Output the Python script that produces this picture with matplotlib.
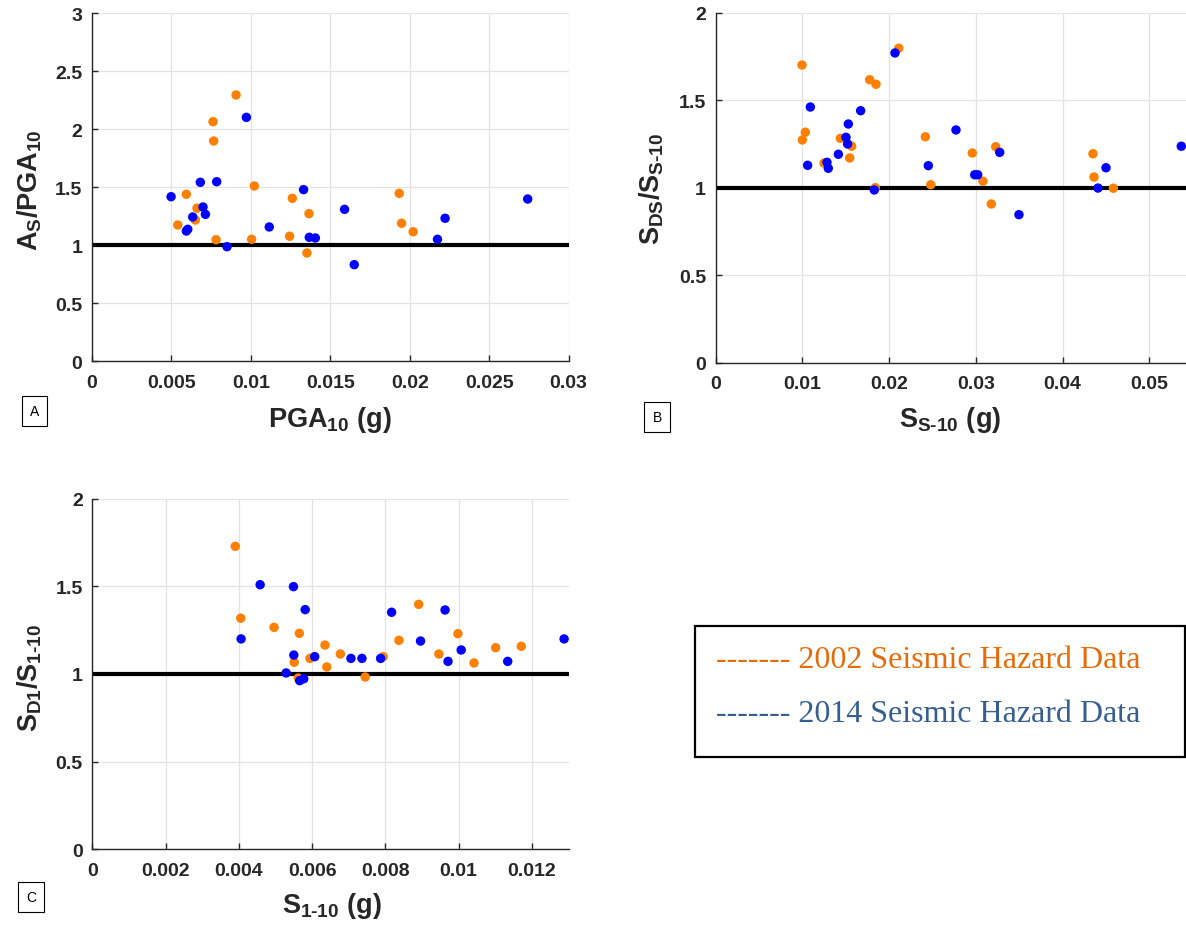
import matplotlib
matplotlib.use("Agg")
import matplotlib.pyplot as plt
from matplotlib.patches import Rectangle

plt.rcParams['font.family'] = ['Liberation Sans', 'DejaVu Sans']
plt.rcParams['mathtext.fontset'] = 'custom'
plt.rcParams['mathtext.rm'] = 'Liberation Sans:bold'
plt.rcParams['mathtext.it'] = 'Liberation Sans:bold'
plt.rcParams['mathtext.bf'] = 'Liberation Sans:bold'

# ---------------- Data ----------------
# Panel A: As/PGA10 vs PGA10
a_2002_x = [0.00907, 0.00762, 0.00766, 0.00594, 0.00661, 0.00651, 0.00540, 0.00781, 0.01022, 0.01005,
            0.01261, 0.01366, 0.01244, 0.01353, 0.01934, 0.01949, 0.02022]
a_2002_y = [2.296, 2.066, 1.899, 1.440, 1.320, 1.218, 1.175, 1.048, 1.511, 1.052,
            1.405, 1.273, 1.078, 0.934, 1.448, 1.190, 1.117]
a_2014_x = [0.00972, 0.00498, 0.00682, 0.00785, 0.00699, 0.00634, 0.00714, 0.00603, 0.00594, 0.00850,
            0.01116, 0.01332, 0.01368, 0.01406, 0.01590, 0.01651, 0.02223, 0.02175, 0.02743]
a_2014_y = [2.103, 1.419, 1.543, 1.548, 1.330, 1.244, 1.267, 1.138, 1.123, 0.988,
            1.158, 1.480, 1.069, 1.063, 1.310, 0.833, 1.233, 1.052, 1.399]

# Panel B: SDS/SS-10 vs SS-10
b_2002_x = [0.00996, 0.02111, 0.01776, 0.01849, 0.01034, 0.01000, 0.01438, 0.01569, 0.01250, 0.01546,
            0.01841, 0.02418, 0.02480, 0.02959, 0.03229, 0.03082, 0.03178, 0.04350, 0.04362, 0.04585]
b_2002_y = [1.701, 1.797, 1.617, 1.591, 1.317, 1.273, 1.282, 1.237, 1.141, 1.170,
            1.000, 1.291, 1.017, 1.198, 1.234, 1.037, 0.907, 1.194, 1.061, 0.997]
b_2014_x = [0.02068, 0.01092, 0.01672, 0.01530, 0.01503, 0.01522, 0.01415, 0.01284, 0.01299, 0.01061,
            0.01829, 0.02452, 0.02771, 0.02987, 0.03021, 0.03275, 0.03497, 0.04500, 0.04408, 0.05368]
b_2014_y = [1.770, 1.461, 1.440, 1.364, 1.288, 1.250, 1.191, 1.145, 1.111, 1.128,
            0.987, 1.126, 1.330, 1.074, 1.074, 1.202, 0.846, 1.114, 0.998, 1.237]

# Panel C: SD1/S1-10 vs S1-10
c_2002_x = [0.00390, 0.00405, 0.00496, 0.00565, 0.00551, 0.00562, 0.00594, 0.00635, 0.00640, 0.00677,
            0.00745, 0.00794, 0.00837, 0.00891, 0.00946, 0.00998, 0.01042, 0.01101, 0.01171]
c_2002_y = [1.728, 1.318, 1.266, 1.232, 1.067, 0.977, 1.089, 1.165, 1.040, 1.114,
            0.983, 1.099, 1.192, 1.397, 1.114, 1.230, 1.063, 1.150, 1.158]
c_2014_x = [0.00458, 0.00549, 0.00581, 0.00406, 0.00550, 0.00607, 0.00529, 0.00566, 0.00577, 0.00706,
            0.00736, 0.00787, 0.00817, 0.00896, 0.00963, 0.00971, 0.01007, 0.01134, 0.01288]
c_2014_y = [1.509, 1.498, 1.367, 1.200, 1.108, 1.099, 1.006, 0.962, 0.973, 1.089,
            1.089, 1.089, 1.352, 1.188, 1.365, 1.072, 1.137, 1.072, 1.200]

legend_labels = ["------- 2002 Seismic Hazard Data", "------- 2014 Seismic Hazard Data"]

# ---------------- Styling ----------------
W, H = 1186, 928
C2002 = '#FF8000'
C2014 = '#0000FF'
AXC = '#262626'

fig = plt.figure(figsize=(W / 100, H / 100), dpi=100)


def px_axes(left, top, right, bottom):
    return fig.add_axes([left / W, 1 - bottom / H, (right - left) / W, (bottom - top) / H])


def style(ax, xlim, ylim, xticks, xtl, yticks, ytl):
    ax.set_xlim(*xlim)
    ax.set_ylim(*ylim)
    ax.set_xticks(xticks)
    ax.set_xticklabels(xtl)
    ax.set_yticks(yticks)
    ax.set_yticklabels(ytl)
    for s in ['top', 'right']:
        ax.spines[s].set_visible(False)
    for s in ['left', 'bottom']:
        ax.spines[s].set_color(AXC)
        ax.spines[s].set_linewidth(1.0)
    ax.tick_params(direction='in', length=4, width=1, color=AXC, labelcolor=AXC,
                   labelsize=14, pad=7)
    ax.tick_params(axis='x', pad=9)
    for lab in ax.get_xticklabels() + ax.get_yticklabels():
        lab.set_fontweight('bold')
    ax.grid(True, color='#e3e3e3', linewidth=0.9)
    ax.set_axisbelow(True)
    ax.axhline(1.0, color='black', linewidth=3.0, zorder=2)


def scat(ax, x1, y1, x2, y2):
    ax.scatter(x1, y1, s=46, color=C2002, edgecolors='none', zorder=3, clip_on=False)
    ax.scatter(x2, y2, s=46, color=C2014, edgecolors='none', zorder=4, clip_on=False)


# Panel A
axA = px_axes(92, 14.3, 568.5, 362.3)
style(axA, (0, 0.03), (0, 3),
      [0, 0.005, 0.01, 0.015, 0.02, 0.025, 0.03], ['0', '0.005', '0.01', '0.015', '0.02', '0.025', '0.03'],
      [0, 0.5, 1, 1.5, 2, 2.5, 3], ['0', '0.5', '1', '1.5', '2', '2.5', '3'])
scat(axA, a_2002_x, a_2002_y, a_2014_x, a_2014_y)

# Panel B
axB = px_axes(715.6, 13.7, 1186, 363.7)
style(axB, (0, (1186 - 715.6) / 8675), (0, 2),
      [0, 0.01, 0.02, 0.03, 0.04, 0.05], ['0', '0.01', '0.02', '0.03', '0.04', '0.05'],
      [0, 0.5, 1, 1.5, 2], ['0', '0.5', '1', '1.5', '2'])
scat(axB, b_2002_x, b_2002_y, b_2014_x, b_2014_y)

# Panel C
axC = px_axes(92.4, 499.6, 568.5, 850.4)
style(axC, (0, 0.013), (0, 2),
      [0, 0.002, 0.004, 0.006, 0.008, 0.01, 0.012], ['0', '0.002', '0.004', '0.006', '0.008', '0.01', '0.012'],
      [0, 0.5, 1, 1.5, 2], ['0', '0.5', '1', '1.5', '2'])
scat(axC, c_2002_x, c_2002_y, c_2014_x, c_2014_y)

# Axis labels
def ftext(x, y, s, **kw):
    return fig.text(x / W, 1 - y / H, s, **kw)

LBL = dict(fontsize=19.5, color=AXC)
ftext(330, 427, r'$PGA_{10}\ (g)$', ha='center', va='baseline', **LBL)
ftext(950, 427, r'$S_{S\text{-}10}\ (g)$', ha='center', va='baseline', **LBL)
ftext(332, 913, r'$S_{1\text{-}10}\ (g)$', ha='center', va='baseline', **LBL)
ftext(30, 190, r'$A_{S}/PGA_{10}$', ha='center', va='center', rotation=90, **LBL)
ftext(652, 189, r'$S_{DS}/S_{S\text{-}10}$', ha='center', va='center', rotation=90, **LBL)
ftext(30, 678, r'$S_{D1}/S_{1\text{-}10}$', ha='center', va='center', rotation=90, **LBL)

# Panel tags
TAG = dict(fontsize=10, ha='center', va='center', color='black',
           bbox=dict(boxstyle='square,pad=0.6', facecolor='white', edgecolor='black', linewidth=0.8))
ftext(34.5, 412, 'A', **TAG)
ftext(657, 418, 'B', **TAG)
ftext(31, 898, 'C', **TAG)

# Legend box
fig.patches.append(Rectangle((695 / W, 1 - 758 / H), (1185 - 695) / W, (758 - 627) / H,
                             transform=fig.transFigure, facecolor='white', edgecolor='black',
                             linewidth=1.6, zorder=5))
ftext(716, 668, legend_labels[0], family='Liberation Serif', fontsize=23, color='#E46C0A',
      ha='left', va='baseline', zorder=6)
ftext(716, 722, legend_labels[1], family='Liberation Serif', fontsize=23, color='#365F91',
      ha='left', va='baseline', zorder=6)

fig.savefig('out.png', dpi=100)
